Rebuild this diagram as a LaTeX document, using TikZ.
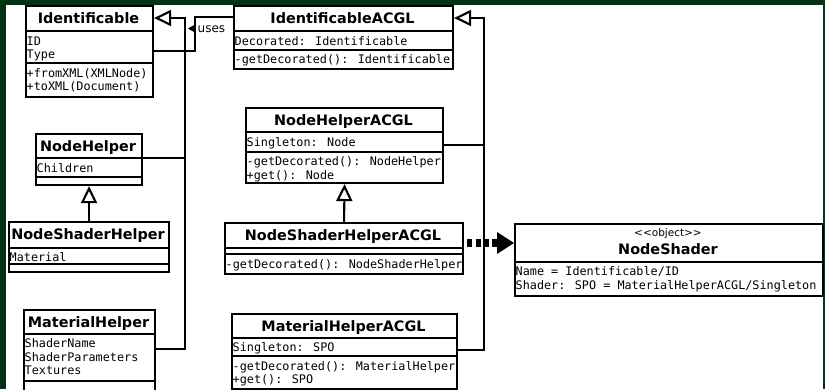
\documentclass[tikz,border=0pt]{standalone}
\usepackage{fontspec}
\setmainfont{DejaVu Sans}
\newfontfamily\monof{DejaVu Sans Mono}
\usetikzlibrary{arrows.meta,calc}
\definecolor{bgc}{RGB}{5,50,20}
\begin{document}
\begin{tikzpicture}[x=1pt,y=-1pt,
  box/.style={draw=black,line width=2.1pt,fill=white,rectangle,inner sep=0pt,anchor=north west},
  ttl/.style={font=\fontsize{14.4}{17}\selectfont\bfseries,inner sep=0pt,anchor=base},
  mono/.style={font=\monof\fontsize{11.8}{13.5}\selectfont,inner sep=0pt,anchor=base west},
  sep/.style={line width=2.1pt},
  conn/.style={line width=2.1pt},
  gen/.style={conn,-{Triangle[open,length=17pt,width=16pt]}},
  dep/.style={line width=7.5pt,dash pattern=on 5pt off 3.3pt,dash phase=5pt},
]
\useasboundingbox (0,0) rectangle (825,389);
\fill[bgc] (0,0) rectangle (825,389);
\fill[white] (6,5) rectangle (823,389);
\clip (0,0) rectangle (825,389);

% Identificable
\node[box,minimum width=127,minimum height=91] (idf) at (25,5) {};
\node[ttl] (idfT) at (88.5,23.5) {Identificable};
\draw[sep] (25,31) -- (152,31); \draw[sep] (25,63) -- (152,63);
\node[mono] (idf1) at (26.5,45) {ID};
\node[mono] (idf2) at (26.5,58.5) {Type};
\node[mono] (idf3) at (26.5,77) {+fromXML(XMLNode)};
\node[mono] (idf4) at (26.5,90.5) {+toXML(Document)};

% IdentificableACGL
\node[box,minimum width=219,minimum height=63] (ida) at (233,5) {};
\node[ttl] (idaT) at (342.5,23.5) {IdentificableACGL};
\draw[sep] (233,31) -- (452,31); \draw[sep] (233,50) -- (452,50);
\node[mono] (ida1) at (234.5,45) {Decorated: Identificable};
\node[mono] (ida2) at (234.5,63.5) {-getDecorated(): Identificable};

% NodeHelper
\node[box,minimum width=106,minimum height=51] (nh) at (35,133) {};
\node[ttl] (nhT) at (88,151.5) {NodeHelper};
\draw[sep] (35,158) -- (141,158); \draw[sep] (35,177) -- (141,177);
\node[mono] (nh1) at (36.5,172) {Children};

% NodeShaderHelper
\node[box,minimum width=160,minimum height=50] (nsh) at (8,221) {};
\node[ttl] (nshT) at (88,239.5) {NodeShaderHelper};
\draw[sep] (8,248) -- (168,248); \draw[sep] (8,264) -- (168,264);
\node[mono] (nsh1) at (9.5,261) {Material};

% NodeHelperACGL
\node[box,minimum width=197,minimum height=75] (nha) at (245,107) {};
\node[ttl] (nhaT) at (343.5,125.5) {NodeHelperACGL};
\draw[sep] (245,132) -- (442,132); \draw[sep] (245,152) -- (442,152);
\node[mono] (nha1) at (246.5,146) {Singleton: Node};
\node[mono] (nha2) at (246.5,165.5) {-getDecorated(): NodeHelper};
\node[mono] (nha3) at (246.5,179) {+get(): Node};

% NodeShaderHelperACGL
\node[box,minimum width=238,minimum height=51] (nsha) at (224,222) {};
\node[ttl] (nshaT) at (343,240.5) {NodeShaderHelperACGL};
\draw[sep] (224,248) -- (462,248); \draw[sep] (224,254) -- (462,254);
\node[mono] (nsha1) at (225.5,268.5) {-getDecorated(): NodeShaderHelper};

% NodeShader
\node[box,minimum width=308,minimum height=72] (ns) at (514,223) {};
\node[font=\fontsize{10.5}{12}\selectfont,inner sep=0pt,anchor=base] (nsS) at (668,236.5) {<{}<object>{}>};
\node[ttl] (nsT) at (668,254) {NodeShader};
\draw[sep] (514,262) -- (822,262);
\node[mono] (ns1) at (515.5,275) {Name = Identificable/ID};
\node[mono] (ns2) at (515.5,289) {Shader: SPO = MaterialHelperACGL/Singleton};

% MaterialHelper
\node[box,minimum width=131,minimum height=90] (mh) at (23,309) {};
\node[ttl] (mhT) at (88.5,327.5) {MaterialHelper};
\draw[sep] (23,334) -- (154,334); \draw[sep] (23,381) -- (154,381);
\node[mono] (mh1) at (24.5,347.5) {ShaderName};
\node[mono] (mh2) at (24.5,361) {ShaderParameters};
\node[mono] (mh3) at (24.5,374.5) {Textures};

% MaterialHelperACGL
\node[box,minimum width=225,minimum height=75] (mha) at (231,313) {};
\node[ttl] (mhaT) at (343.5,331.5) {MaterialHelperACGL};
\draw[sep] (231,338) -- (456,338); \draw[sep] (231,356) -- (456,356);
\node[mono] (mha1) at (232.5,351.5) {Singleton: SPO};
\node[mono] (mha2) at (232.5,370.5) {-getDecorated(): MaterialHelper};
\node[mono] (mha3) at (232.5,383.5) {+get(): SPO};

% generalisation to Identificable
\coordinate (g1top) at (185,18);
\coordinate (g1nh) at (185,158);
\coordinate (g1bot) at (185,349);
\draw[gen] (mh.east |- g1bot) -- (g1bot) -- (g1top) -- (idf.east |- g1top);
\draw[conn] (nh.east |- g1nh) -- (g1nh);

% generalisation to IdentificableACGL
\coordinate (g2top) at (484,18);
\coordinate (g2nha) at (484,145);
\coordinate (g2bot) at (484,350);
\draw[gen] (mha.east |- g2bot) -- (g2bot) -- (g2top) -- (ida.east |- g2top);
\draw[conn] (nha.east |- g2nha) -- (g2nha);

% inner generalisations
\draw[gen] (nsh.north) -- (nh.south);
\draw[gen] (nsha.north) -- (nha.south);

% uses
\coordinate (u1) at (195,51);
\coordinate (u2) at (195,17);
\draw[conn] (idf.east |- u1) -- (u1) -- (u2) -- (ida.west |- u2);
\fill (188,28.5) -- (195,24.5) -- (195,32.5) -- cycle;
\node[font=\fontsize{12}{14}\selectfont,inner sep=0pt,anchor=base west] (usesL) at (197.5,32.3) {uses};

% dependency
\coordinate (dy) at (0,243);
\coordinate (dend) at (497,243);
\draw[dep] (nsha.east |- dy) -- (dend);
\fill (ns.west |- dy) -- (dend |- 0,232) -- (dend |- 0,254) -- cycle;
\end{tikzpicture}
\end{document}
